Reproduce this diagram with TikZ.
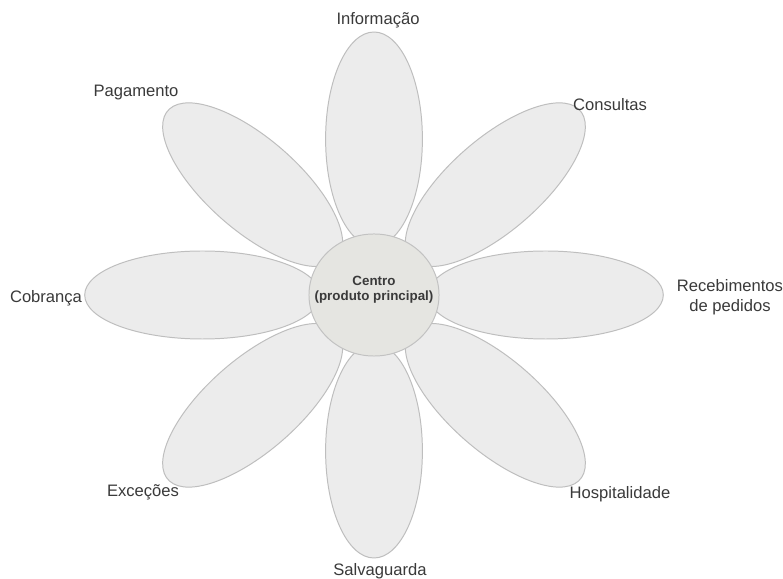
\documentclass[tikz,border=0pt]{standalone}
\usepackage{fontspec}
\setmainfont{Liberation Sans}
\usetikzlibrary{shapes.geometric}
\definecolor{petalfill}{HTML}{ECECEC}
\definecolor{petalline}{HTML}{BEBEBE}
\definecolor{corefill}{HTML}{E5E5E1}
\definecolor{coreline}{HTML}{C2C2C2}
\definecolor{textgray}{HTML}{3A3A3A}
\begin{document}
\begin{tikzpicture}[
	x=0.025cm, y=0.025cm,
	line join=round,
	petal/.style={fill=petalfill, draw=petalline, line width=0.7pt},
	petaltext/.style={text=textgray, font=\fontsize{11.8}{14}\selectfont, align=center, inner sep=0pt}
	]
	
	% Fundo
	\useasboundingbox (0,0) rectangle (783,579);
	\fill[white] (0,0) rectangle (783,579);
	
	% Pétalas
	\begin{scope}[shift={(374,284)}, xscale=1.1]
		\foreach \a in {0,45,...,315}
		{
			\draw[petal, rotate=\a] (156,0) ellipse (107 and 44);
		}
	\end{scope}
	
	% Miolo
	\node[ellipse, fill=corefill, draw=coreline, line width=0.7pt,
		minimum width=3.25cm, minimum height=3.05cm, inner sep=0pt] (miolo) at (374,284) {};
	\node[text=textgray, font=\fontsize{9.5}{10.7}\selectfont\bfseries, align=center, inner sep=0pt]
		(centro) at (374,289) {Centro\\(produto principal)};
	
	% Nomes das pétalas
	\node[petaltext] (informacao) at (378,559) {Informação};
	\node[petaltext] (consultas) at (610,474) {Consultas};
	\node[petaltext] (recebimentos) at (730,282) {Recebimentos\\de pedidos};
	\node[petaltext] (hospitalidade) at (620,85) {Hospitalidade};
	\node[petaltext] (salvaguarda) at (380,8) {Salvaguarda};
	\node[petaltext] (excecoes) at (143,87) {Exceções};
	\node[petaltext] (cobranca) at (46,281) {Cobrança};
	\node[petaltext] (pagamento) at (136,486) {Pagamento};
	
\end{tikzpicture}
\end{document}
